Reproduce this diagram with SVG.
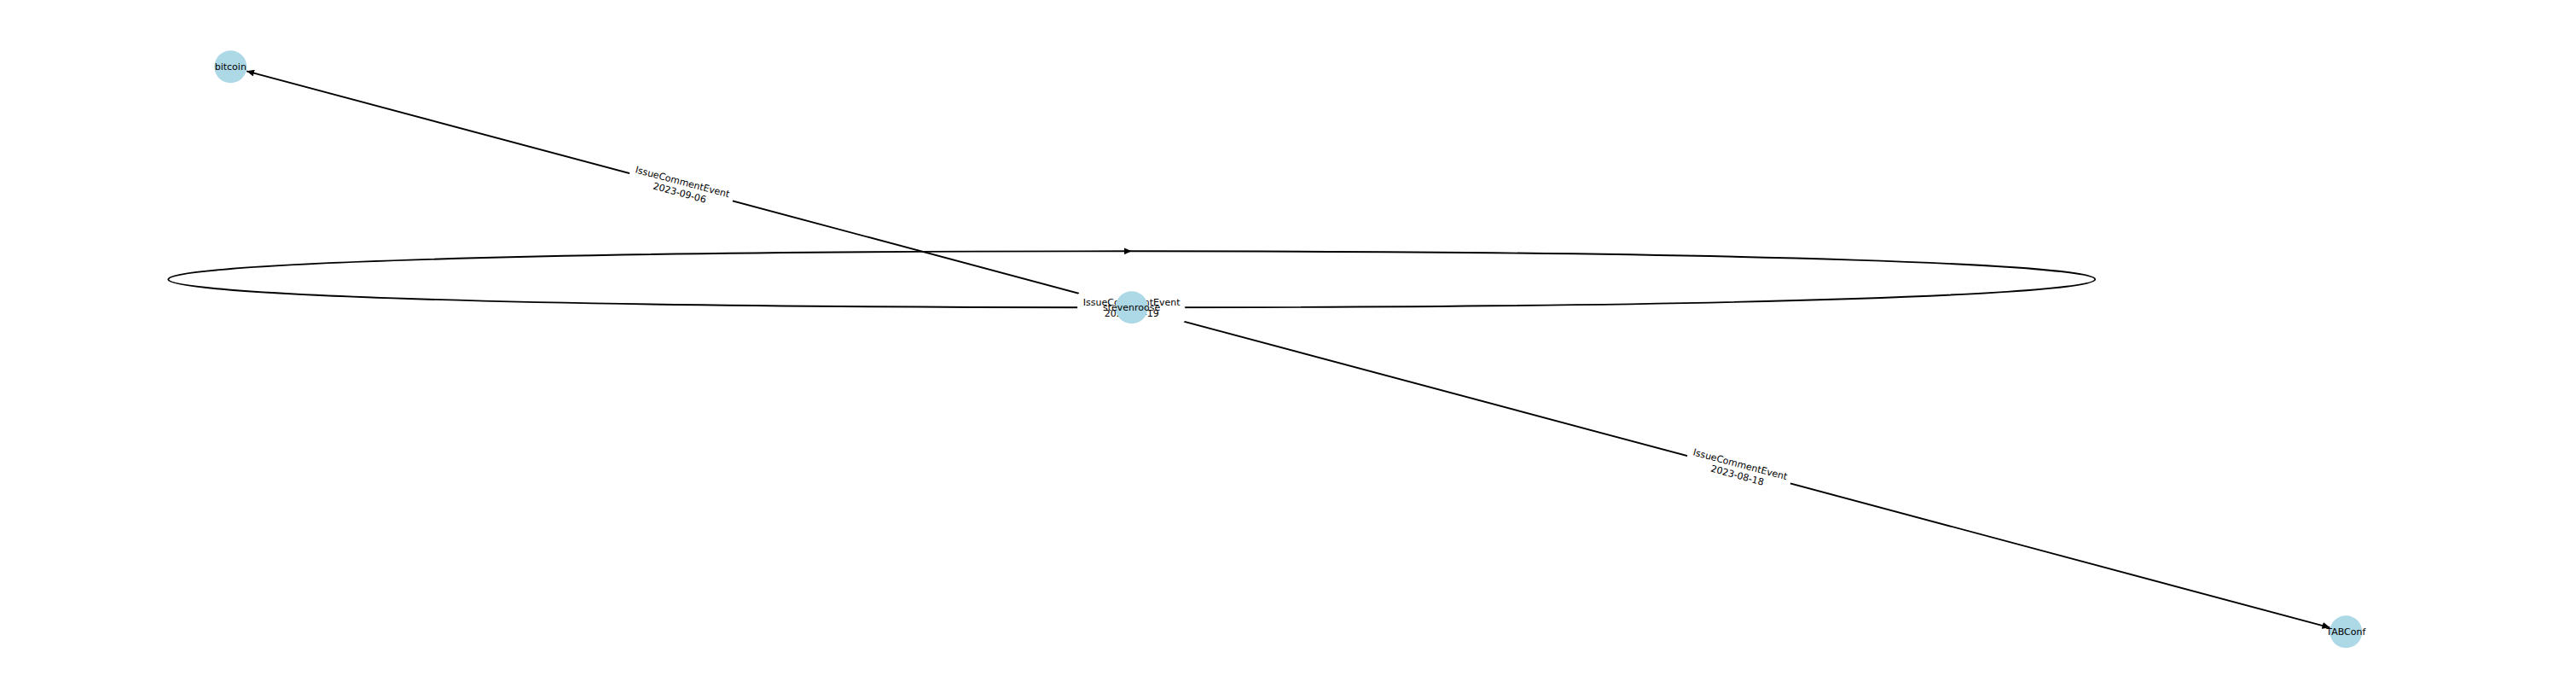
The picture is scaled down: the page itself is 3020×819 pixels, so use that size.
<svg xmlns="http://www.w3.org/2000/svg" width="3020" height="819" viewBox="0 0 3020 819">
<style>
.edge{fill:none;stroke:#000;stroke-width:1.9}
.lbox{fill:#fff;stroke:#fff;stroke-width:1}
.lbl{font-family:"DejaVu Sans","Liberation Sans",sans-serif;font-size:11px;fill:#000;text-anchor:middle}
.node{fill:#ADD8E6}
</style>
<defs>
<marker id="arrow" viewBox="0 0 9 8" refX="9" refY="4" markerWidth="9" markerHeight="8" markerUnits="userSpaceOnUse" orient="auto">
<path d="M0,0 L9,4 L0,8 z" fill="#000"/>
</marker>
</defs>
<rect width="3020" height="819" fill="#fff"/>
<g id="connectors">
<path id="edge-self" class="edge" d="M1326.7,294.3 C2832.7,294.3 2832.7,360.3 1326.7,360.3 C-179.3,360.3 -179.3,294.3 1326.7,294.3" marker-end="url(#arrow)"/>
<line id="edge-bitcoin" class="edge" x1="1326.7" y1="360.3" x2="289.1" y2="83.3" marker-end="url(#arrow)"/>
<line id="edge-tabconf" class="edge" x1="1326.7" y1="360.3" x2="2731.5" y2="735.3" marker-end="url(#arrow)"/>
</g>
<g id="edge-labels">
<g transform="translate(798.5,219.3) rotate(14.95)">
<rect class="lbox" x="-62" y="-18" width="124" height="36" rx="5"/>
<text class="lbl" x="0" y="-2.6">IssueCommentEvent</text>
<text class="lbl" x="0" y="10.6">2023-09-06</text>
</g>
<g transform="translate(2038.5,550.3) rotate(14.94)">
<rect class="lbox" x="-62" y="-18" width="124" height="36" rx="5"/>
<text class="lbl" x="0" y="-2.6">IssueCommentEvent</text>
<text class="lbl" x="0" y="10.6">2023-08-18</text>
</g>
<g transform="translate(1326.7,360.3)">
<rect class="lbox" x="-63" y="-18" width="125" height="37" rx="5"/>
<text class="lbl" x="0" y="-2.6">IssueCommentEvent</text>
<text class="lbl" x="0" y="10.6">2023-09-19</text>
</g>
</g>
<g id="node-stevenroose">
<circle class="node" cx="1326.7" cy="360.3" r="19"/>
<text class="lbl" x="1326.7" y="364.3">stevenroose</text>
</g>
<g id="node-bitcoin">
<circle class="node" cx="270.3" cy="78.3" r="19"/>
<text class="lbl" x="270.3" y="82.3">bitcoin</text>
</g>
<g id="node-TABConf">
<circle class="node" cx="2750.3" cy="740.3" r="19"/>
<text class="lbl" x="2750.3" y="744.3">TABConf</text>
</g>
</svg>
